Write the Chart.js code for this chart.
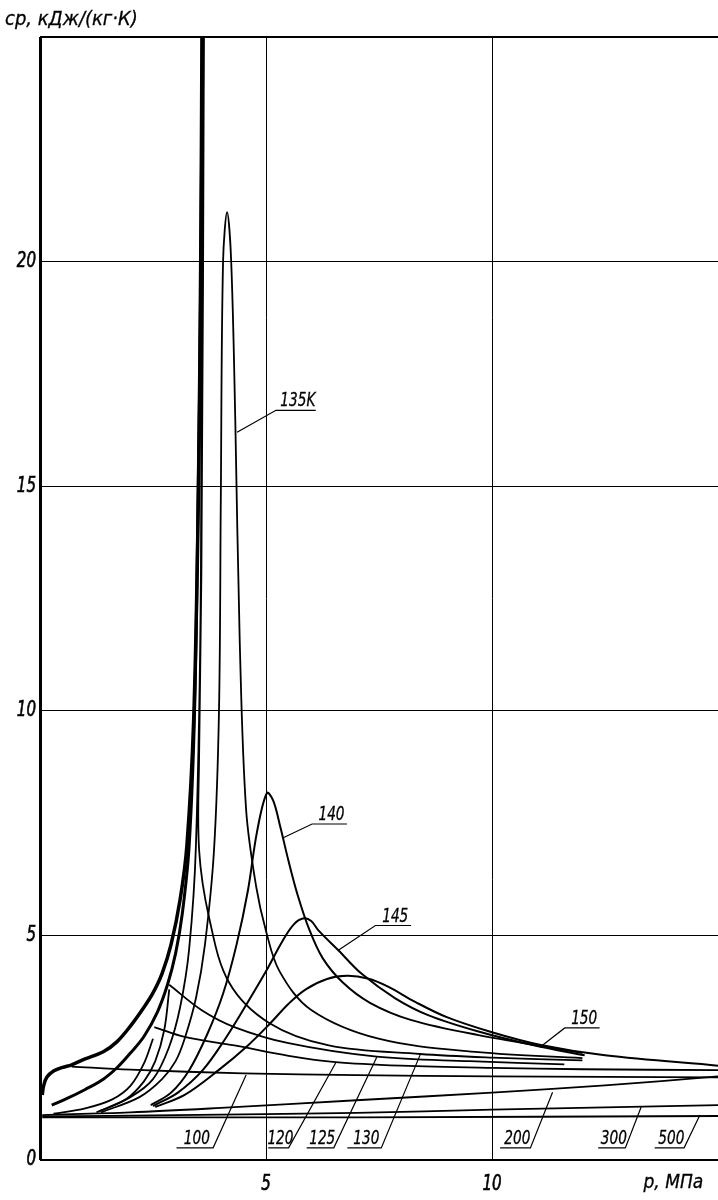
<!DOCTYPE html>
<html>
<head>
<meta charset="utf-8">
<script src="https://cdn.jsdelivr.net/npm/chart.js@4/dist/chart.umd.min.js"></script>
<style>
html, body { margin: 0; padding: 0; background: #fff; }
#wrap { width: 718px; height: 1200px; position: relative; }
</style>
</head>
<body>
<div id="wrap"><canvas id="c" width="718" height="1200"></canvas></div>
<script>
// cp of nitrogen vs pressure, isotherms. p in MPa, cp in kJ/(kg*K)
var xTicks = [0, 5, 10, 15];
var xTickText = ['', '5', '10', ''];
var yTicks = [0, 5, 10, 15, 20, 25];
var yTickText = ['0', '5', '10', '15', '20', ''];

// saturation lines (thick)
var satLiqP  = [0.05, 0.08, 0.15, 0.3, 0.5, 0.7, 1.0, 1.4, 1.7, 2.0, 2.3, 2.5, 2.7, 2.9, 3.1, 3.25, 3.4, 3.5, 3.56, 3.6];
var satLiqCp = [1.45, 1.65, 1.84, 1.98, 2.06, 2.12, 2.25, 2.41, 2.63, 2.98, 3.4, 3.72, 4.15, 4.8, 5.8, 7.0, 9.8, 14.5, 19.5, 25.5];
var satVapP  = [0.26, 0.6, 1.0, 1.4, 1.72, 2.0, 2.3, 2.6, 2.82, 3.0, 3.15, 3.3, 3.42, 3.5, 3.55, 3.58];
var satVapCp = [1.22, 1.37, 1.57, 1.8, 2.07, 2.38, 2.75, 3.3, 3.9, 4.6, 5.5, 7.0, 10, 15, 20, 25.5];

// subcritical isotherms: gas and liquid parts
var t100lP  = [0.7, 2, 4.5, 7, 10, 15];
var t100lCp = [2.08, 2.01, 1.93, 1.89, 1.86, 1.84];
var t120gP  = [0.3, 1.0, 1.6, 2.0, 2.3, 2.5];
var t120gCp = [1.03, 1.15, 1.35, 1.65, 2.15, 2.7];
var t120lP  = [2.53, 3.2, 4.3, 5.5, 6.54, 8, 10, 12, 15];
var t120lCp = [2.96, 2.74, 2.55, 2.32, 2.18, 2.1, 2.05, 2.02, 2.0];
var t125gP  = [1.25, 1.9, 2.3, 2.55, 2.75, 2.86];
var t125gCp = [1.06, 1.35, 1.75, 2.2, 2.9, 3.8];
var t125lP  = [2.86, 3.57, 4.3, 5.5, 7.45, 9.5, 11.6];
var t125lCp = [3.9, 3.34, 2.96, 2.6, 2.3, 2.2, 2.13];

// supercritical isotherms
var t130P  = [1.3, 2.0, 2.5, 2.85, 3.1, 3.3, 3.45, 3.56, 3.6, 3.63, 3.57, 3.52, 3.52, 3.74, 4.19, 5.07, 6.39, 8.41, 10, 12];
var t130Cp = [1.08, 1.4, 1.8, 2.5, 3.4, 4.7, 7, 13, 26, 26, 13, 9, 6.9, 5.4, 3.94, 3.05, 2.55, 2.36, 2.28, 2.22];
var t135P  = [1.35, 2.2, 2.7, 3.0, 3.2, 3.45, 3.65, 3.85, 3.96, 4.0, 4.05, 4.14, 4.23, 4.32, 4.42, 4.56, 4.78, 5.0, 5.3, 6.0, 7.49, 9.7, 12];
var t135Cp = [1.06, 1.4, 1.8, 2.2, 2.7, 3.6, 4.8, 6.9, 10, 14.7, 20, 21.1, 20, 16.5, 11.5, 7.8, 6.1, 5.1, 4.2, 3.34, 2.7, 2.4, 2.27];
var t140P  = [2.45, 2.9, 3.3, 3.7, 4.05, 4.35, 4.6, 4.8, 5.02, 5.16, 5.32, 5.5, 5.7, 5.95, 6.25, 6.7, 7.3, 8.2, 9.7, 12];
var t140Cp = [1.22, 1.5, 2.0, 2.8, 3.7, 4.8, 6.0, 7.3, 8.17, 8.0, 7.4, 6.65, 5.9, 5.15, 4.5, 3.95, 3.5, 3.12, 2.78, 2.38];
var t145P  = [2.5, 3.05, 3.6, 4.1, 4.56, 5.0, 5.35, 5.62, 5.84, 6.0, 6.17, 6.6, 7.11, 7.86, 8.6, 9.7, 10.9, 12.05];
var t145Cp = [1.2, 1.5, 2.0, 2.7, 3.45, 4.2, 4.85, 5.25, 5.38, 5.32, 5.1, 4.67, 4.15, 3.6, 3.22, 2.86, 2.56, 2.33];
var t150P  = [2.55, 3.2, 3.95, 4.6, 5.1, 5.5, 5.88, 6.35, 6.8, 7.25, 7.7, 8.3, 9.0, 9.98, 11.08, 12.5, 15];
var t150Cp = [1.18, 1.45, 2.0, 2.55, 3.05, 3.48, 3.8, 4.03, 4.1, 4.04, 3.86, 3.52, 3.18, 2.85, 2.56, 2.33, 2.1];
var t200P  = [0.05, 2, 4, 7, 10, 12.5, 15];
var t200Cp = [1.0, 1.06, 1.16, 1.33, 1.5, 1.66, 1.86];
var t300P  = [0.05, 3, 7, 10, 15];
var t300Cp = [0.97, 1.0, 1.05, 1.12, 1.22];
var t500P  = [0.05, 7, 15];
var t500Cp = [0.95, 0.95, 0.98];

// curve tags: text, point on the curve, shelf (left end, right end, level) in data units
var tagText  = ['135K', '140', '145', '150', '100', '120', '125', '130', '200', '300', '500'];
var tagHit   = [[4.36, 16.2], [5.37, 7.17], [6.6, 4.67], [11.06, 2.51], [4.56, 1.89], [6.54, 2.16], [7.45, 2.29], [8.41, 2.34], [11.34, 1.51], [13.3, 1.18], [14.6, 1.0]];
var tagShelf = [[5.22, 6.1, 16.69], [6.02, 6.79, 7.48], [7.42, 8.21, 5.22], [11.61, 12.38, 2.94],
                [3.02, 3.83, 0.27], [5.05, 5.5, 0.27], [5.9, 6.5, 0.27], [6.8, 7.55, 0.27],
                [10.18, 10.85, 0.27], [12.35, 12.95, 0.27], [13.6, 14.25, 0.27]];

function pts(ps, cs) {
    var out = [];
    for (var i = 0; i < ps.length; i++) out.push({x: ps[i], y: cs[i]});
    return out;
}

function line(ps, cs, w) {
    return {data: pts(ps, cs), borderColor: '#000', borderWidth: w, showLine: true,
            pointRadius: 0, tension: 0.35, fill: false};
}

var datasets = [
    line(satLiqP, satLiqCp, 3.5),
    line(satVapP, satVapCp, 3),
    line(t100lP, t100lCp, 1.8),
    line(t120gP, t120gCp, 1.8),
    line(t120lP, t120lCp, 1.8),
    line(t125gP, t125gCp, 1.8),
    line(t125lP, t125lCp, 1.8),
    line(t130P, t130Cp, 1.8),
    line(t135P, t135Cp, 1.8),
    line(t140P, t140Cp, 2),
    line(t145P, t145Cp, 2),
    line(t150P, t150Cp, 2),
    line(t200P, t200Cp, 1.8),
    line(t300P, t300Cp, 1.8),
    line(t500P, t500Cp, 1.8)
];

var COND = '"DejaVu Sans Condensed", "DejaVu Sans", sans-serif';

// squeezed italic text, like the drafting font of the original
function narrowText(ctx, s, x, y, align, sx, bold) {
    var w = ctx.measureText(s).width * sx;
    var x0 = align === 'center' ? x - w / 2 : (align === 'right' ? x - w : x);
    ctx.save();
    ctx.translate(x0, y);
    ctx.scale(sx, 1);
    ctx.textAlign = 'left';
    ctx.fillText(s, 0, 0);
    if (bold) {
        ctx.lineWidth = bold;
        ctx.strokeText(s, 0, 0);
    }
    ctx.restore();
}

var textPlugin = {
    id: 'texts',
    afterDraw: function (chart) {
        var ctx = chart.ctx;
        var xs = chart.scales.x, ys = chart.scales.y;
        ctx.save();
        ctx.fillStyle = '#000';
        ctx.strokeStyle = '#000';
        ctx.font = 'italic 21px ' + COND;
        // y tick labels
        ctx.textBaseline = 'middle';
        for (var i = 0; i < yTicks.length; i++) {
            narrowText(ctx, yTickText[i], xs.left - 4, ys.getPixelForValue(yTicks[i]), 'right', 0.8, 0.6);
        }
        // x tick labels
        ctx.textBaseline = 'top';
        for (var j = 0; j < xTicks.length; j++) {
            narrowText(ctx, xTickText[j], xs.getPixelForValue(xTicks[j]), ys.bottom + 14, 'center', 0.8, 0.6);
        }
        ctx.font = 'italic 20px ' + COND;
        narrowText(ctx, 'p, МПа', xs.getPixelForValue(13.35), ys.bottom + 13, 'left', 0.95, 0.3);
        // axis title
        ctx.textBaseline = 'alphabetic';
        narrowText(ctx, 'cp, кДж/(кг·К)', 5, 25, 'left', 1.0, 0.3);

        // tags with leader lines
        ctx.font = 'italic 19px ' + COND;
        for (var k = 0; k < tagText.length; k++) {
            var hx = xs.getPixelForValue(tagHit[k][0]), hy = ys.getPixelForValue(tagHit[k][1]);
            var sl = xs.getPixelForValue(tagShelf[k][0]), sr = xs.getPixelForValue(tagShelf[k][1]);
            var sy = ys.getPixelForValue(tagShelf[k][2]);
            ctx.lineWidth = 1.2;
            ctx.beginPath();
            if (hy < sy) {
                // curve point above the shelf: leader leaves from the right end
                ctx.moveTo(sl, sy); ctx.lineTo(sr, sy); ctx.lineTo(hx, hy);
            } else {
                ctx.moveTo(sr, sy); ctx.lineTo(sl, sy); ctx.lineTo(hx, hy);
            }
            ctx.stroke();
            ctx.textBaseline = 'alphabetic';
            narrowText(ctx, tagText[k], (sl + sr) / 2 + 2, sy - 4, 'center', 0.8, 0.3);
        }
        ctx.restore();
    }
};

function gridWidth(c) {
    var v = c.tick.value;
    if (c.scale.axis === 'x') return v === 0 ? 3 : 1;
    return (v === 0 || v === 25) ? 2 : 1;
}

new Chart(document.getElementById('c'), {
    type: 'scatter',
    data: {datasets: datasets},
    options: {
        responsive: false,
        animation: false,
        devicePixelRatio: 1,
        layout: {padding: {left: 40, top: 37, right: 0, bottom: 40}},
        plugins: {legend: {display: false}, tooltip: {enabled: false}},
        scales: {
            x: {
                type: 'linear', min: 0, max: 15,
                afterBuildTicks: function (s) { s.ticks = xTicks.map(function (v) { return {value: v}; }); },
                ticks: {display: false},
                grid: {color: '#000', lineWidth: gridWidth, drawTicks: false},
                border: {display: false}
            },
            y: {
                type: 'linear', min: 0, max: 25,
                afterBuildTicks: function (s) { s.ticks = yTicks.map(function (v) { return {value: v}; }); },
                ticks: {display: false},
                grid: {color: '#000', lineWidth: gridWidth, drawTicks: false},
                border: {display: false}
            }
        }
    },
    plugins: [textPlugin]
});
</script>
</body>
</html>
